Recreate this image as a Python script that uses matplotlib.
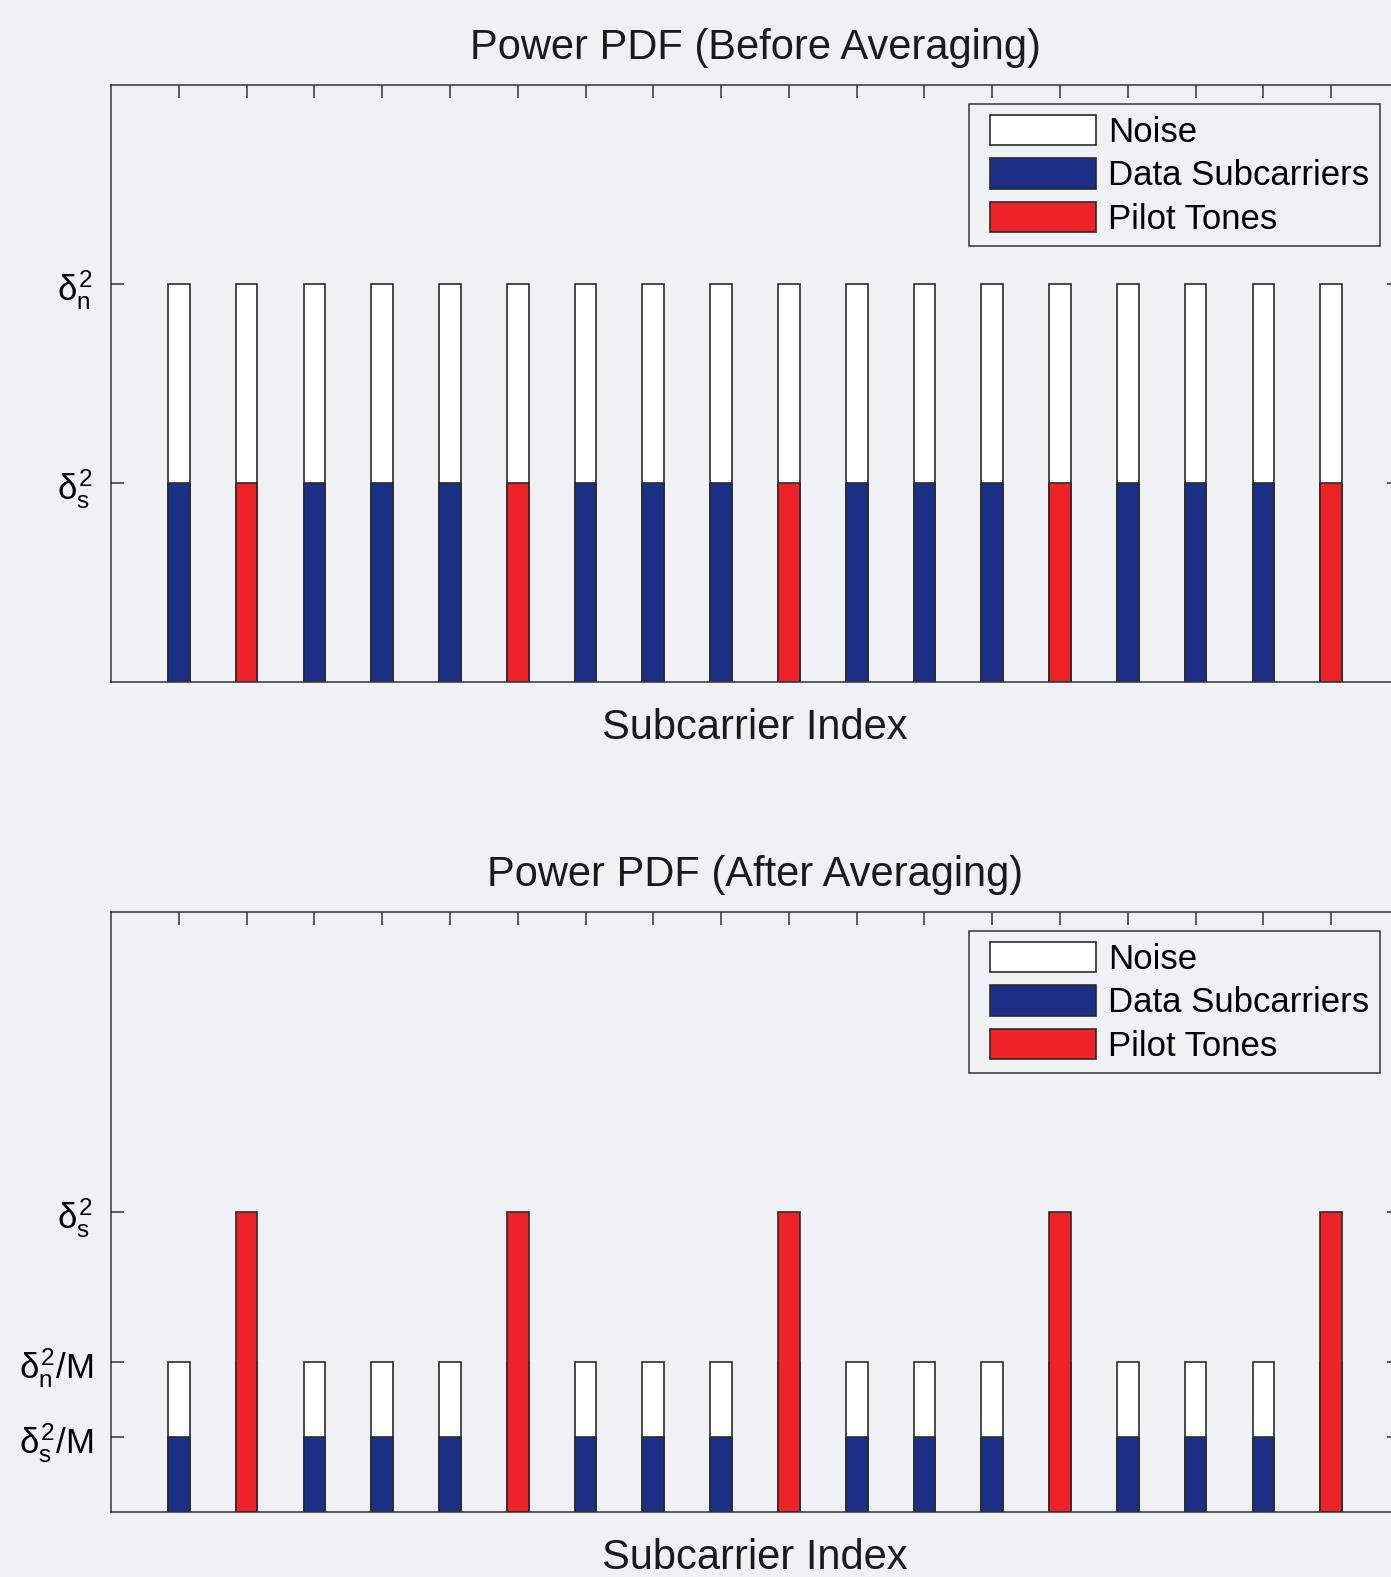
import numpy as np
import matplotlib as mpl
import matplotlib.pyplot as plt
from matplotlib.container import BarContainer
from matplotlib.legend_handler import HandlerPatch, update_from_first_child
from matplotlib.patches import Rectangle

plt.rcParams['font.family'] = ['Liberation Sans', 'DejaVu Sans']
plt.rcParams['mathtext.fontset'] = 'custom'
plt.rcParams['mathtext.rm'] = 'Liberation Sans'
plt.rcParams['mathtext.it'] = 'Liberation Sans'
plt.rcParams['mathtext.bf'] = 'Liberation Sans:bold'

# subcarrier layout: pilots every 4th carrier starting at 2
subcarriers = np.arange(1, 19)
is_pilot = [False, True, False, False, False, True, False, False, False,
            True, False, False, False, True, False, False, False, True]

# power levels in units of delta_s^2 (delta_n^2 = 2, M = 4)
before_noise  = [2, 2, 2, 2, 2, 2, 2, 2, 2, 2, 2, 2, 2, 2, 2, 2, 2, 2]
before_signal = [1, 1, 1, 1, 1, 1, 1, 1, 1, 1, 1, 1, 1, 1, 1, 1, 1, 1]
after_noise   = [0.5, 0.5, 0.5, 0.5, 0.5, 0.5, 0.5, 0.5, 0.5,
                 0.5, 0.5, 0.5, 0.5, 0.5, 0.5, 0.5, 0.5, 0.5]
after_signal  = [0.25, 1, 0.25, 0.25, 0.25, 1, 0.25, 0.25, 0.25,
                 1, 0.25, 0.25, 0.25, 1, 0.25, 0.25, 0.25, 1]

before_ticks = [1, 2]
before_ticklabels = [r'$\delta_s^2$', r'$\delta_n^2$']
after_ticks = [0.25, 0.5, 1]
after_ticklabels = [r'$\delta_s^2/M$', r'$\delta_n^2/M$', r'$\delta_s^2$']

bgcolor = '#eff1f4'
blue = '#1c2f86'
red = '#ee2227'
edge = '#2b2b2b'
width = 0.32


def legend_box(legend, orig_handle, xdescent, ydescent, width, height, fontsize):
    # keep the swatch at the right end of the handle area
    w = 3.05 * fontsize
    return Rectangle((-xdescent + width - w, -ydescent), w, height)


def plot(ax, noise, signal, ylim, yticks, yticklabels, title):
    noise = np.array(noise)
    signal = np.array(signal)
    pilot = np.array(is_pilot)
    ax.bar(subcarriers, noise, width=width, color='white', edgecolor=edge,
           linewidth=1.2, label='Noise', zorder=2)
    ax.bar(subcarriers[~pilot], signal[~pilot], width=width, color=blue,
           edgecolor=edge, linewidth=1.2, label='Data Subcarriers', zorder=3)
    ax.bar(subcarriers[pilot], signal[pilot], width=width, color=red,
           edgecolor=edge, linewidth=1.2, label='Pilot Tones', zorder=3)
    ax.set_xlim(0, 19)
    ax.set_ylim(*ylim)
    ax.set_xticks(subcarriers)
    ax.set_xticklabels([])
    ax.set_yticks(yticks)
    ax.set_yticklabels(yticklabels, fontsize=25)
    ax.tick_params(direction='in', length=9, width=1.1, top=True, right=True,
                   color='#333333')
    ax.tick_params(axis='y', pad=13)
    ax.tick_params(axis='x', pad=6)
    ax.set_axisbelow(True)
    for sp in ax.spines.values():
        sp.set_linewidth(1.1)
        sp.set_color('#333333')
        sp.set_zorder(4)
    ax.set_facecolor('none')
    ax.set_title(title, fontsize=30, pad=19, color='#1a1a1a')
    ax.set_xlabel('Subcarrier Index', fontsize=30, labelpad=12.5, color='#1a1a1a')
    hmap = {BarContainer: HandlerPatch(patch_func=legend_box,
                                       update_func=update_from_first_child)}
    leg = ax.legend(loc='upper right', fontsize=25, frameon=True, fancybox=False,
                    edgecolor='#333333', facecolor=bgcolor, framealpha=1,
                    handler_map=hmap,
                    handlelength=3.37, handleheight=0.98, handletextpad=0.35,
                    labelspacing=0.27, borderpad=0.3, borderaxespad=0.55)
    leg.get_frame().set_linewidth(1.1)


fig = plt.figure(figsize=(13.91, 15.77), dpi=100, facecolor=bgcolor)
ax1 = fig.add_axes([111/1391, 1 - 682/1577, 1288/1391, 597/1577])
ax2 = fig.add_axes([111/1391, 1 - 1512/1577, 1288/1391, 600/1577])

plot(ax1, before_noise, before_signal, (0, 3), before_ticks, before_ticklabels,
     'Power PDF (Before Averaging)')
plot(ax2, after_noise, after_signal, (0, 2), after_ticks, after_ticklabels,
     'Power PDF (After Averaging)')

fig.savefig('out.png', dpi=100, facecolor=bgcolor)
